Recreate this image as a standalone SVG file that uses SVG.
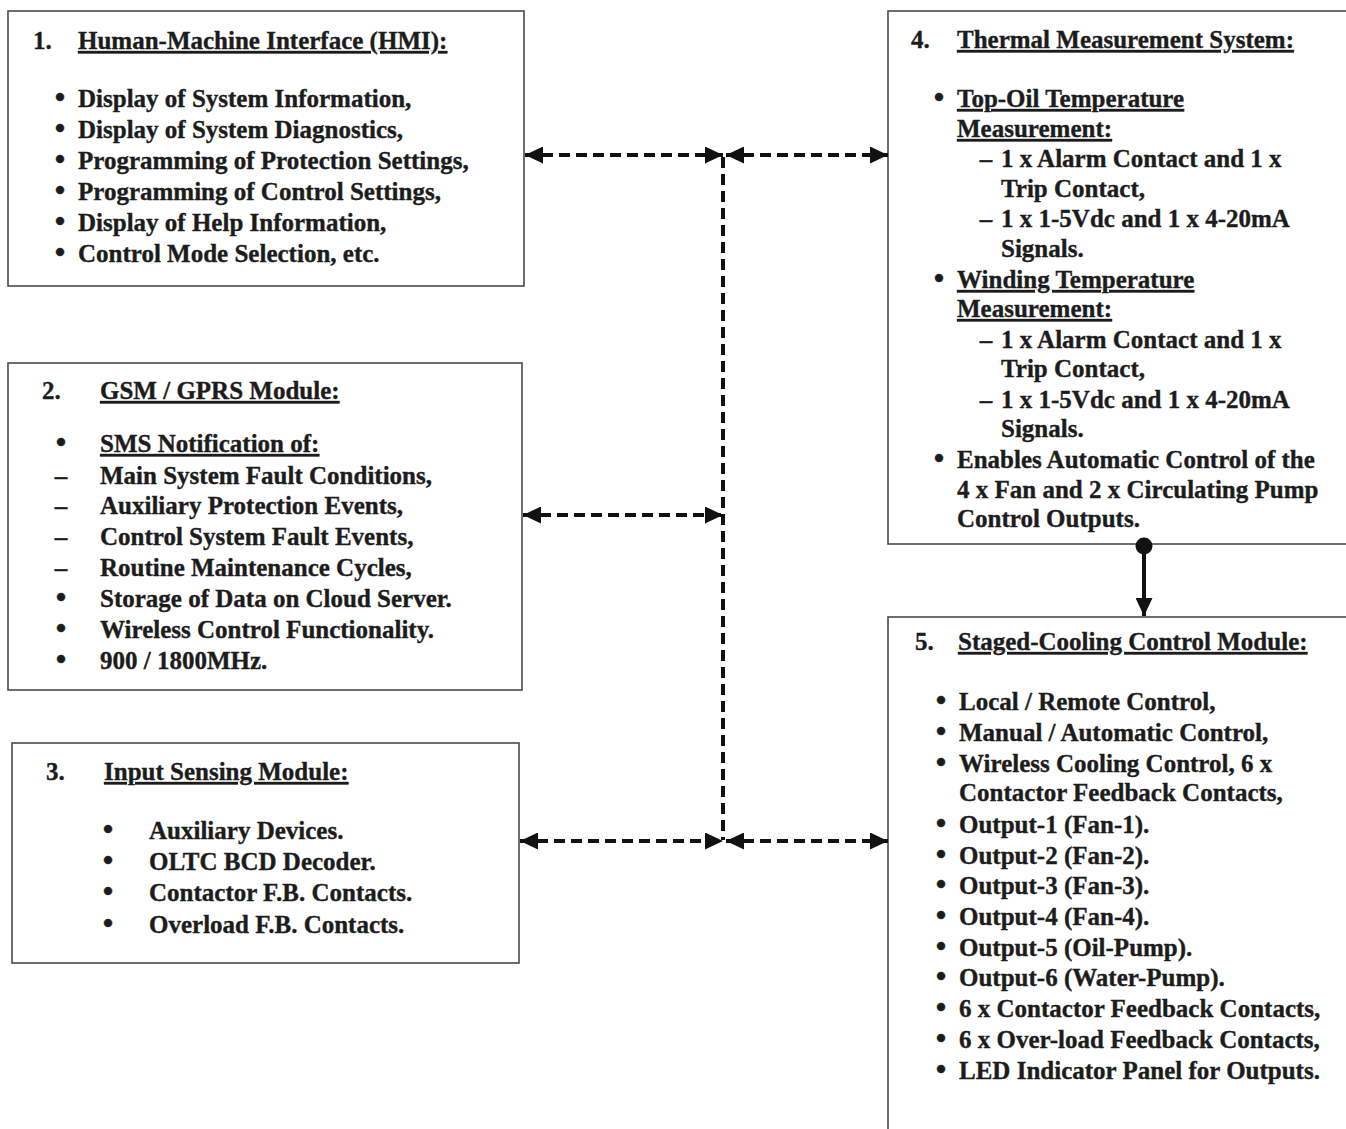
<svg xmlns="http://www.w3.org/2000/svg" width="1346" height="1129" viewBox="0 0 1346 1129">
<style>
  .box { fill: #ffffff; stroke: #4a4a4a; stroke-width: 1.6; }
  text { font-family: "Liberation Serif", "Times New Roman", serif; font-weight: bold; font-size: 25px; fill: #1c1c1c; stroke: #1c1c1c; stroke-width: 0.35; }
  .u { text-decoration: underline; }
  .mid { text-anchor: middle; }
  .b { font-size: 30px; }
  .dash { fill: none; stroke: #111; stroke-width: 4; stroke-dasharray: 11 6; }
  .solid { fill: none; stroke: #111; stroke-width: 4; }
</style>
<defs>
  <marker id="ah" viewBox="0 0 18 17" refX="18" refY="8.5" markerWidth="18" markerHeight="17" markerUnits="userSpaceOnUse" orient="auto-start-reverse">
    <path d="M0,0 L18,8.5 L0,17 Z" fill="#111"/>
  </marker>
</defs>
<rect width="1346" height="1129" fill="#ffffff"/>

<g id="node1">
  <rect class="box" x="8" y="11" width="516" height="275"/>
  <text x="33" y="49">1.</text>
  <text x="78" y="49" class="u">Human-Machine Interface (HMI):</text>
  <text x="60" y="107" class="mid b">•</text><text x="78" y="107">Display of System Information,</text>
  <text x="60" y="138" class="mid b">•</text><text x="78" y="138">Display of System Diagnostics,</text>
  <text x="60" y="169" class="mid b">•</text><text x="78" y="169">Programming of Protection Settings,</text>
  <text x="60" y="200" class="mid b">•</text><text x="78" y="200">Programming of Control Settings,</text>
  <text x="60" y="231" class="mid b">•</text><text x="78" y="231">Display of Help Information,</text>
  <text x="60" y="262" class="mid b">•</text><text x="78" y="262">Control Mode Selection, etc.</text>
</g>

<g id="node2">
  <rect class="box" x="8" y="363" width="514" height="327"/>
  <text x="42" y="399">2.</text>
  <text x="100" y="399" class="u">GSM / GPRS Module:</text>
  <text x="61" y="452" class="mid b">•</text><text x="100" y="452" class="u">SMS Notification of:</text>
  <text x="61" y="484" class="mid">–</text><text x="100" y="484">Main System Fault Conditions,</text>
  <text x="61" y="514" class="mid">–</text><text x="100" y="514">Auxiliary Protection Events,</text>
  <text x="61" y="545" class="mid">–</text><text x="100" y="545">Control System Fault Events,</text>
  <text x="61" y="576" class="mid">–</text><text x="100" y="576">Routine Maintenance Cycles,</text>
  <text x="61" y="607" class="mid b">•</text><text x="100" y="607">Storage of Data on Cloud Server.</text>
  <text x="61" y="638" class="mid b">•</text><text x="100" y="638">Wireless Control Functionality.</text>
  <text x="61" y="669" class="mid b">•</text><text x="100" y="669">900 / 1800MHz.</text>
</g>

<g id="node3">
  <rect class="box" x="12" y="743" width="507" height="220"/>
  <text x="46" y="780">3.</text>
  <text x="104" y="780" class="u">Input Sensing Module:</text>
  <text x="108" y="839" class="mid b">•</text><text x="149" y="839">Auxiliary Devices.</text>
  <text x="108" y="870" class="mid b">•</text><text x="149" y="870">OLTC BCD Decoder.</text>
  <text x="108" y="901" class="mid b">•</text><text x="149" y="901">Contactor F.B. Contacts.</text>
  <text x="108" y="933" class="mid b">•</text><text x="149" y="933">Overload F.B. Contacts.</text>
</g>

<g id="node4">
  <rect class="box" x="888" y="11" width="470" height="533"/>
  <text x="911" y="48">4.</text>
  <text x="957" y="48" class="u">Thermal Measurement System:</text>
  <text x="939" y="107" class="mid b">•</text><text x="957" y="107" class="u">Top-Oil Temperature</text>
  <text x="957" y="137" class="u">Measurement:</text>
  <text x="986" y="167" class="mid">–</text><text x="1001" y="167">1 x Alarm Contact and 1 x</text>
  <text x="1001" y="197">Trip Contact,</text>
  <text x="986" y="227" class="mid">–</text><text x="1001" y="227">1 x 1-5Vdc and 1 x 4-20mA</text>
  <text x="1001" y="257">Signals.</text>
  <text x="939" y="288" class="mid b">•</text><text x="957" y="288" class="u">Winding Temperature</text>
  <text x="957" y="317" class="u">Measurement:</text>
  <text x="986" y="348" class="mid">–</text><text x="1001" y="348">1 x Alarm Contact and 1 x</text>
  <text x="1001" y="377">Trip Contact,</text>
  <text x="986" y="408" class="mid">–</text><text x="1001" y="408">1 x 1-5Vdc and 1 x 4-20mA</text>
  <text x="1001" y="437">Signals.</text>
  <text x="939" y="468" class="mid b">•</text><text x="957" y="468">Enables Automatic Control of the</text>
  <text x="957" y="498">4 x Fan and 2 x Circulating Pump</text>
  <text x="957" y="527">Control Outputs.</text>
</g>

<g id="node5">
  <rect class="box" x="888" y="617" width="470" height="530"/>
  <text x="915" y="650">5.</text>
  <text x="958" y="650" class="u">Staged-Cooling Control Module:</text>
  <text x="941" y="710" class="mid b">•</text><text x="959" y="710">Local / Remote Control,</text>
  <text x="941" y="741" class="mid b">•</text><text x="959" y="741">Manual / Automatic Control,</text>
  <text x="941" y="772" class="mid b">•</text><text x="959" y="772">Wireless Cooling Control, 6 x</text>
  <text x="959" y="801">Contactor Feedback Contacts,</text>
  <text x="941" y="833" class="mid b">•</text><text x="959" y="833">Output-1 (Fan-1).</text>
  <text x="941" y="864" class="mid b">•</text><text x="959" y="864">Output-2 (Fan-2).</text>
  <text x="941" y="894" class="mid b">•</text><text x="959" y="894">Output-3 (Fan-3).</text>
  <text x="941" y="925" class="mid b">•</text><text x="959" y="925">Output-4 (Fan-4).</text>
  <text x="941" y="956" class="mid b">•</text><text x="959" y="956">Output-5 (Oil-Pump).</text>
  <text x="941" y="986" class="mid b">•</text><text x="959" y="986">Output-6 (Water-Pump).</text>
  <text x="941" y="1017" class="mid b">•</text><text x="959" y="1017">6 x Contactor Feedback Contacts,</text>
  <text x="941" y="1048" class="mid b">•</text><text x="959" y="1048">6 x Over-load Feedback Contacts,</text>
  <text x="941" y="1079" class="mid b">•</text><text x="959" y="1079">LED Indicator Panel for Outputs.</text>
</g>

<g id="connectors">
  <path class="dash" d="M723,157 L723,840"/>
  <path class="dash" d="M525,155 L723,155" marker-start="url(#ah)" marker-end="url(#ah)"/>
  <path class="dash" d="M726,155 L888,155" marker-start="url(#ah)" marker-end="url(#ah)"/>
  <path class="dash" d="M523,515 L723,515" marker-start="url(#ah)" marker-end="url(#ah)"/>
  <path class="dash" d="M520,841 L723,841" marker-start="url(#ah)" marker-end="url(#ah)"/>
  <path class="dash" d="M726,841 L888,841" marker-start="url(#ah)" marker-end="url(#ah)"/>
  <circle cx="1144" cy="546" r="8.5" fill="#111"/>
  <path class="solid" d="M1144,546 L1144,616" marker-end="url(#ah)"/>
</g>
</svg>
